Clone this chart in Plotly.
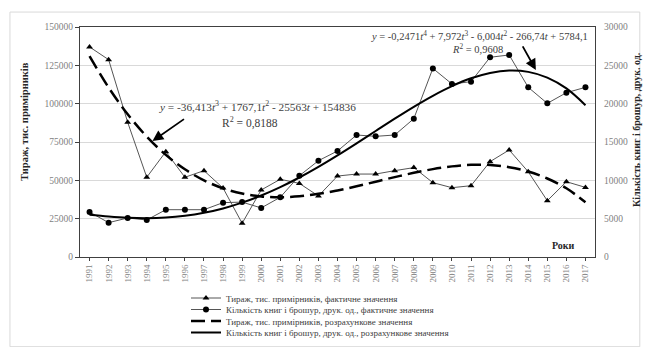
import plotly.graph_objects as go

years = list(range(1991, 2018))
tirazh_fact = [137000, 128700, 87800, 52000, 68700, 52000, 56300, 45000, 22000, 43700,
               50700, 48000, 39800, 52800, 54100, 54100, 56300, 58300, 48500, 45200,
               46500, 62200, 69800, 55600, 36700, 49100, 45400]
knyhy_fact = [5870, 4480, 5090, 4830, 6170, 6170, 6170, 7090, 7160, 6400,
              7790, 10600, 12560, 13830, 15910, 15740, 15910, 18040, 24600, 22570,
              22870, 26050, 26350, 22130, 20040, 21430, 22130]
tirazh_trend = [131000, 110500, 93100, 78500, 66600, 57200, 50000, 44800, 41400, 39500,
                39000, 39600, 41200, 43400, 46100, 49100, 52100, 54900, 57300, 59100,
                60100, 60000, 58600, 55800, 51200, 44800, 35700]
knyhy_trend = [5519, 5286, 5125, 5068, 5142, 5369, 5764, 6336, 7088, 8017,
               9116, 10370, 11759, 13256, 14828, 16439, 18043, 19591, 21026, 22288,
               23307, 24011, 24320, 24147, 23402, 21987, 19799]
left_ticks = [0, 25000, 50000, 75000, 100000, 125000, 150000]
right_ticks = [0, 5000, 10000, 15000, 20000, 25000, 30000]

names = ["Тираж, тис. примірників, фактичне значення",
         "Кількість книг і брошур, друк. од., фактичне значення",
         "Тираж, тис. примірників, розрахункове значення",
         "Кількість книг і брошур, друк. од., розрахункове значення"]

SERIF = "Liberation Serif, Times New Roman, serif"

fig = go.Figure()
fig.add_trace(go.Scatter(x=years, y=tirazh_fact, name=names[0], mode="lines+markers",
                         line=dict(color="#555555", width=1),
                         marker=dict(symbol="triangle-up", size=6, color="black"),
                         yaxis="y", legend="legend"))
fig.add_trace(go.Scatter(x=years, y=knyhy_fact, name=names[1], mode="lines+markers",
                         line=dict(color="#555555", width=1),
                         marker=dict(symbol="circle", size=6, color="black"),
                         yaxis="y2", legend="legend2"))
fig.add_trace(go.Scatter(x=years, y=tirazh_trend, name=names[2], mode="lines",
                         line=dict(color="black", width=2.5, dash="14px,6px", shape="spline"),
                         yaxis="y", legend="legend3"))
fig.add_trace(go.Scatter(x=years, y=knyhy_trend, name=names[3], mode="lines",
                         line=dict(color="black", width=2, shape="spline"),
                         yaxis="y2", legend="legend4"))

def leg(ypix):
    return dict(x=186 / 648, y=1 - ypix / 347, xref="container", yref="container",
                xanchor="left", yanchor="middle", itemwidth=30,
                font=dict(size=9, color="#404040", family=SERIF),
                bgcolor="rgba(0,0,0,0)", borderwidth=0)

fig.update_layout(
    width=648, height=347,
    margin=dict(l=80, r=53, t=27, b=90, autoexpand=False),
    paper_bgcolor="white", plot_bgcolor="white",
    font=dict(family=SERIF, size=9, color="#404040"),
    xaxis=dict(range=[1990.5, 2017.5], tickvals=years, ticktext=[str(y) for y in years],
               tickangle=-90, showgrid=False, showline=True, linecolor="#404040",
               linewidth=1, mirror=True, ticks="outside", ticklen=3,
               tickcolor="#404040", tickfont=dict(size=9, color="#7f7f7f"), zeroline=False),
    yaxis=dict(range=[0, 150000], tickvals=left_ticks, ticktext=[str(v) for v in left_ticks],
               showgrid=True, gridcolor="#d9d9d9",
               showline=True, linecolor="#404040", linewidth=1, mirror=True,
               ticks="outside", ticklen=4, tickcolor="#404040", zeroline=False,
               tickfont=dict(size=9.5, color="#7f7f7f")),
    yaxis2=dict(range=[0, 30000], tickvals=right_ticks, ticktext=[str(v) for v in right_ticks],
                overlaying="y", side="right", ticklabelstandoff=8,
                showgrid=False, showline=False, zeroline=False, ticks="",
                tickfont=dict(size=9.5, color="#7f7f7f")),
    legend=leg(298), legend2=leg(309.5), legend3=leg(321), legend4=leg(332.5),
    showlegend=True,
)

# axis titles
fig.add_annotation(x=(25 - 80) / 515, y=(257 - 122) / 230, xref="paper", yref="paper",
                   xanchor="center", yanchor="middle",
                   text="<b>Тираж, тис. примірників</b>", textangle=-90, showarrow=False,
                   font=dict(size=10.5, color="#262626", family=SERIF))
fig.add_annotation(x=(636 - 80) / 515, y=(257 - 130) / 230, xref="paper", yref="paper",
                   xanchor="center", yanchor="middle",
                   text="<b>Кількість книг і брошур, друк. од.</b>", textangle=-90, showarrow=False,
                   font=dict(size=10, color="#262626", family=SERIF))

# trendline equations
fig.add_annotation(x=1999.83, y=98400, xref="x", yref="y", showarrow=False,
                   text="<i>y</i> = -36,413<i>t</i><sup>3</sup> + 1767,1<i>t</i><sup>2</sup> - 25563<i>t</i> + 154836",
                   font=dict(size=11.3, color="#404040", family=SERIF))
fig.add_annotation(x=1999.41, y=88000, xref="x", yref="y", showarrow=False,
                   text="R<sup>2</sup> = 0,8188",
                   font=dict(size=11.5, color="#404040", family=SERIF))
fig.add_annotation(x=2011.47, y=144700, xref="x", yref="y", showarrow=False,
                   text="<i>y</i> = -0,2471<i>t</i><sup>4</sup> + 7,972<i>t</i><sup>3</sup> - 6,004<i>t</i><sup>2</sup> - 266,74<i>t</i> + 5784,1",
                   font=dict(size=10.5, color="#404040", family=SERIF))
fig.add_annotation(x=2011.32, y=136300, xref="x", yref="y", showarrow=False,
                   text="<i>R</i><sup>2</sup> = 0,9608",
                   font=dict(size=10.5, color="#404040", family=SERIF))

# arrows
fig.add_annotation(x=1994.3, y=75600, xref="x", yref="y", text="", showarrow=True,
                   arrowhead=2, arrowsize=1.2, arrowwidth=1.8, arrowcolor="black",
                   ax=33, ay=-23)
fig.add_annotation(x=2014.4, y=122000, xref="x", yref="y", text="", showarrow=True,
                   arrowhead=2, arrowsize=1.2, arrowwidth=1.8, arrowcolor="black",
                   ax=-14, ay=-25)
fig.add_annotation(x=2015.83, y=7800, xref="x", yref="y", text="<b>Роки</b>", showarrow=False,
                   font=dict(size=10, color="#262626", family=SERIF))

fig.add_shape(type="rect", xref="paper", yref="paper", x0=-0.136, x1=1.087, y0=-0.39, y1=1.065,
              line=dict(color="#d9d9d9", width=1), fillcolor="rgba(0,0,0,0)", layer="below")

fig.write_html("out.html", config={"displayModeBar": False},
               post_script="document.body.style.margin='0';")
